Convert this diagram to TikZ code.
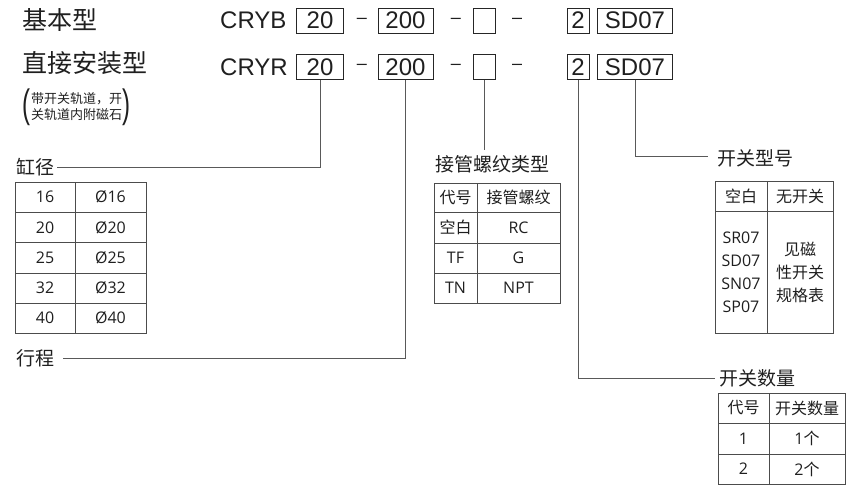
\documentclass[tikz,border=0pt]{standalone}
\usepackage{fontspec}
\usepackage{graphicx}
\setmainfont{Open Sans}
\newfontfamily\cjk{Noto Sans CJK SC}
\newfontfamily\arial{Liberation Sans}
\usetikzlibrary{calc}
\tikzset{
  codebox/.style={
    draw=black!85,
    line width=0.9pt,
    inner sep=0pt,
    minimum height=25pt,
    font=\arial\fontsize{24}{28}\selectfont
  },
  codetext/.style={
    inner sep=0pt,
    font=\arial\fontsize{24}{28}\selectfont
  },
  dashtext/.style={
    inner sep=0pt,
    font=\arial\fontsize{18}{20}\selectfont
  },
  paren/.style={
    inner sep=0pt,
    font=\arial\fontsize{24}{24}\selectfont
  },
  title/.style={
    inner sep=0pt,
    anchor=west,
    font=\cjk\fontsize{25}{30}\selectfont
  },
  fieldname/.style={
    inner sep=0pt,
    anchor=west,
    font=\cjk\fontsize{19}{22}\selectfont
  },
  lead/.style={
    draw=black!65,
    line width=0.8pt
  },
  tabrule/.style={
    draw=black!70,
    line width=0.8pt
  },
  cell/.style={
    inner sep=0pt,
    font=\fontsize{16}{23}\selectfont
  },
  cjkcell/.style={
    inner sep=0pt,
    font=\cjk\fontsize{16}{23}\selectfont
  }
}
\begin{document}
\begin{tikzpicture}[x=1pt,y=-1pt,text=black!88]
  \useasboundingbox (0,0) rectangle (846,485);
  % model rows
  \node[title] (basic) at (22,20) {基本型};
  \node[title] (direct) at (22,63) {直接安装型};
  \node[codetext,anchor=west] (cryb) at (220,20.5) {CRYB};
  \node[codetext,anchor=west] (cryr) at (220,67) {CRYR};
  \foreach \r/\y in {1/20.5,2/67}{
    \node[codebox,minimum width=47pt] (bore\r) at (320,\y) {20};
    \node[dashtext] (da\r) at (362,\y) {–};
    \node[codebox,minimum width=55pt] (stroke\r) at (405.5,\y) {200};
    \node[dashtext] (db\r) at (456,\y) {–};
    \node[codebox,minimum width=22pt] (port\r) at (484,\y) {};
    \node[dashtext] (dc\r) at (517,\y) {–};
    \node[codebox,minimum width=22pt] (num\r) at (578,\y) {2};
    \node[codebox,minimum width=75pt] (sw\r) at (635,\y) {SD07};
  }
  \node[anchor=west,align=left,inner sep=0pt,font=\cjk\fontsize{13}{16}\selectfont] (note) at (31,107)
    {带开关轨道，开\\关轨道内附磁石};
  \node[paren,anchor=east] (lpar) at (note.west) {\scalebox{1}[1.65]{(}};
  \node[paren,anchor=west] (rpar) at (note.east) {\scalebox{1}[1.65]{)}};

  % field names
  \node[fieldname] (bore) at (16,167) {缸径};
  \node[fieldname] (stroke) at (16,358) {行程};
  \node[fieldname] (port) at (435,164) {接管螺纹类型};
  \node[fieldname] (swtype) at (717,158) {开关型号};
  \node[fieldname] (swnum) at (719,378) {开关数量};

  \draw[lead] (bore2.south) |- ($(bore.east)+(3,0)$);
  \draw[lead] (stroke2.south) |- ($(stroke.east)+(9,0)$);
  \draw[lead] (port2.south) -- ($(port2.south |- port.north)+(0,-5)$);
  \draw[lead] (sw2.south) |- ($(swtype.west)+(-9,-2)$);
  \draw[lead] (num2.south) |- ($(swnum.west)+(-4,0)$);

  % bore table
  \draw[tabrule] (15,182) rectangle (146,333);
  \draw[tabrule] (75,182) -- (75,333);
  \foreach \y in {212,242,273,303} \draw[tabrule] (15,\y) -- (146,\y);
  \foreach \d [count=\i] in {16,20,25,32,40}{
    \node[cell] (code\i) at (45,{167+30.2*\i}) {\d};
    \node[cell] (dia\i) at (110.5,{167+30.2*\i}) {Ø\d};
  }

  % port thread table
  \draw[tabrule] (434,183) rectangle (560,303);
  \draw[tabrule] (477,183) -- (477,303);
  \foreach \y in {212,243,273} \draw[tabrule] (434,\y) -- (560,\y);
  \node[cjkcell] (ph1) at (455.5,197.5) {代号};
  \node[cjkcell] (ph2) at (518.5,197.5) {接管螺纹};
  \foreach \c/\t [count=\i] in {{\cjk 空白}/RC,TF/G,TN/NPT}{
    \node[cell] (pc\i) at (455.5,{197.5+30*\i}) {\c};
    \node[cell] (pt\i) at (518.5,{197.5+30*\i}) {\t};
  }

  % switch type table
  \draw[tabrule] (715,181) rectangle (833,333);
  \draw[tabrule] (767,181) -- (767,333);
  \draw[tabrule] (715,211) -- (833,211);
  \node[cjkcell] (sh1) at (741,196) {空白};
  \node[cjkcell] (sh2) at (800,196) {无开关};
  \node[cell,align=center] (sm) at (741,272) {SR07\\SD07\\SN07\\SP07};
  \node[cjkcell,align=center] (sd) at (800,272) {见磁\\性开关\\规格表};

  % switch number table
  \draw[tabrule] (718,393) rectangle (845,484);
  \draw[tabrule] (769,393) -- (769,484);
  \foreach \y in {423,454} \draw[tabrule] (718,\y) -- (845,\y);
  \node[cjkcell] (nh1) at (743.5,408) {代号};
  \node[cjkcell] (nh2) at (807,408) {开关数量};
  \foreach \n [count=\i] in {1,2}{
    \node[cell] (nc\i) at (743.5,{408+30.5*\i}) {\n};
    \node[cell] (nq\i) at (807,{408+30.5*\i}) {\n{\cjk 个}};
  }
\end{tikzpicture}
\end{document}
